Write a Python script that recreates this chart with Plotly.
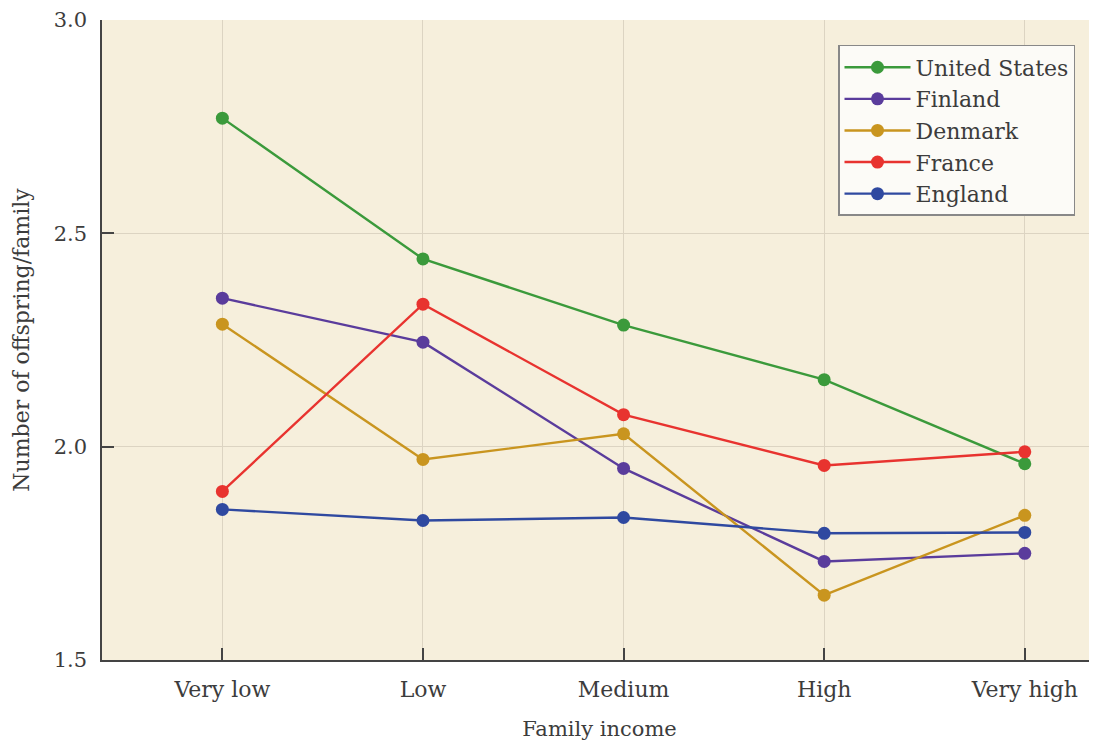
import plotly.graph_objects as go

# categories along the x axis
income = ["Very low", "Low", "Medium", "High", "Very high"]

# offspring per family
united_states = [2.77, 2.44, 2.285, 2.157, 1.96]
finland = [2.348, 2.245, 1.949, 1.731, 1.75]
denmark = [2.287, 1.97, 2.03, 1.652, 1.839]
france = [1.895, 2.334, 2.075, 1.956, 1.988]
england = [1.853, 1.827, 1.834, 1.797, 1.799]

series = [
    ("United States", united_states, "#3b9a3b"),
    ("Finland", finland, "#5a3c9c"),
    ("Denmark", denmark, "#c9951f"),
    ("France", france, "#e8332f"),
    ("England", england, "#2f49a0"),
]

SERIF = "DejaVu Serif, Liberation Serif, serif"
INK = "#3c3c3c"

fig = go.Figure()
for name, vals, col in series:
    fig.add_trace(go.Scatter(
        x=income, y=vals, name=name, mode="lines+markers",
        line=dict(color=col, width=2.4),
        marker=dict(color=col, size=13),
    ))

# the page body has an 8px margin, so the figure is sized/offset to match
fig.update_layout(
    width=1089, height=746,
    margin=dict(l=94, r=0, t=9, b=94),
    paper_bgcolor="white",
    plot_bgcolor="#f6efdc",
    font=dict(family=SERIF, size=21, color=INK),
    showlegend=True,
    legend=dict(
        x=0.7397, y=0.961, xanchor="left", yanchor="top",
        bgcolor="#fcfbf7", bordercolor="#888888", borderwidth=1.5,
        font=dict(family=SERIF, size=22, color=INK),
        tracegroupgap=0, itemwidth=66,
    ),
)

fig.update_xaxes(
    type="category", range=[-0.6, 4.36],
    showline=True, linecolor="#444", linewidth=1.5,
    ticks="inside", ticklen=12, tickcolor="#444", tickwidth=1.5,
    showgrid=True, gridcolor="#dcd4c2", gridwidth=1,
    tickfont=dict(size=22), ticklabelstandoff=9,
    title=dict(text="Family income", font=dict(size=21), standoff=20),
    zeroline=False,
)
fig.update_yaxes(
    range=[1.5, 3.0], tickvals=[1.5, 2.0, 2.5, 3.0], tickformat=".1f",
    showline=True, linecolor="#444", linewidth=1.5,
    ticks="inside", ticklen=12, tickcolor="#444", tickwidth=1.5,
    showgrid=True, gridcolor="#dcd4c2", gridwidth=1,
    tickfont=dict(size=21), ticklabelstandoff=9, ticklabeloverflow="allow",
    title=dict(text="Number of offspring/family", font=dict(size=22), standoff=18),
    zeroline=False,
)

fig.write_html("out.html")
